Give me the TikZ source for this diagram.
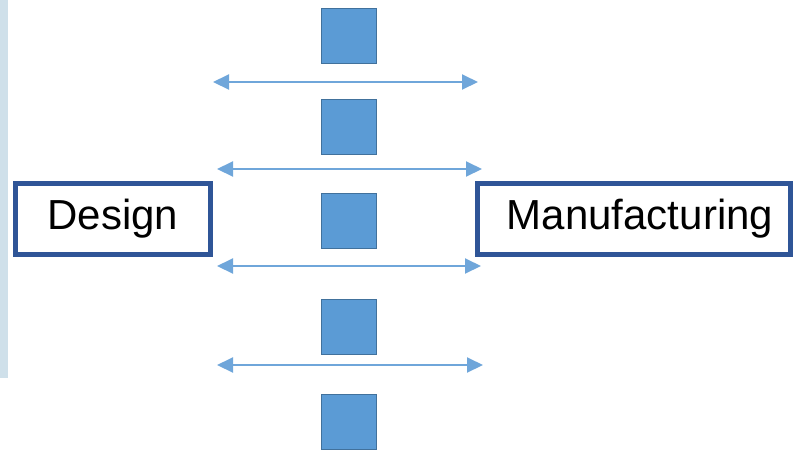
\documentclass[tikz,border=0pt]{standalone}
\usepackage{fontspec}
\setmainfont{Liberation Sans}
\usetikzlibrary{arrows.meta}
\definecolor{sqfill}{HTML}{5B9BD5}
\definecolor{sqdraw}{HTML}{41719C}
\definecolor{boxblue}{HTML}{2F5597}
\definecolor{strip}{HTML}{CFE0EA}
\definecolor{arrowblue}{HTML}{6FA6DA}
\begin{document}
\begin{tikzpicture}[x=1pt,y=-1pt,
  sq/.style={draw=sqdraw,fill=sqfill,line width=1.5pt,minimum width=55pt,minimum height=55pt,inner sep=0pt},
  label box/.style={draw=boxblue,line width=5pt,fill=white,minimum height=71pt,inner sep=0pt,font=\fontsize{42}{48}\selectfont},
  harrow/.style={draw=arrowblue,line width=2pt,{Triangle[length=16pt,width=15pt]}-{Triangle[length=16pt,width=15pt]}}
]
\useasboundingbox (0,0) rectangle (793,451);
\fill[strip] (0,0) rectangle (8,378);
% squares
\node[sq] (s1) at (349,36) {};
\node[sq] (s2) at (349,127) {};
\node[sq] (s3) at (349,221) {};
\node[sq] (s4) at (349,327) {};
\node[sq] (s5) at (349,422) {};
% boxes
\node[label box,minimum width=195pt] (design) at (113,219) {Design};
\node[label box,minimum width=313pt] (manu) at (634,219) {\hspace*{12pt}Manufacturing};
% arrows
\coordinate (a1l) at (213,82); \coordinate (a1r) at (478,82);
\coordinate (a2l) at (217,169); \coordinate (a2r) at (482,169);
\coordinate (a3l) at (217,266); \coordinate (a3r) at (481,266);
\coordinate (a4l) at (217,365); \coordinate (a4r) at (483,365);
\draw[harrow] (a1l) -- (a1r);
\draw[harrow] (a2l) -- (a2r);
\draw[harrow] (a3l) -- (a3r);
\draw[harrow] (a4l) -- (a4r);
\end{tikzpicture}
\end{document}
